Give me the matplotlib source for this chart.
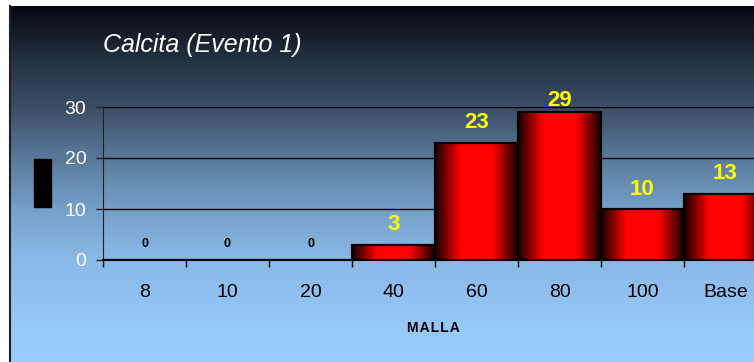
import matplotlib.pyplot as plt
import numpy as np
from matplotlib.colors import LinearSegmentedColormap
from matplotlib.patches import Rectangle
from matplotlib.lines import Line2D

plt.rcParams['font.family'] = ['Liberation Sans', 'DejaVu Sans']

mallas = ['8', '10', '20', '40', '60', '80', '100', 'Base']
porcentaje = [0, 0, 0, 3, 23, 29, 10, 13]

W, H = 754, 362
fig = plt.figure(figsize=(W / 100, H / 100), dpi=100, facecolor='white')

# fondo degradado: oscuro arriba, celeste abajo
bg_stops = [(0.0, '#99ccff'), (0.09, '#96c8f8'), (0.29, '#8ab8e6'),
            (0.43, '#75a0c8'), (0.57, '#5a7a9c'), (0.71, '#3d5068'),
            (0.88, '#1e2a38'), (1.0, '#05070d')]
bg_cmap = LinearSegmentedColormap.from_list('fondo', bg_stops)
bg = fig.add_axes([9.5 / W, 0, 1 - 9.5 / W, (H - 6) / H], zorder=-2)
bg.imshow(np.linspace(1, 0, 400).reshape(-1, 1), cmap=bg_cmap, aspect='auto',
          extent=[0, 1, 0, 1], vmin=0, vmax=1)
bg.set_axis_off()
fig.add_artist(Line2D([9.5 / W, 9.5 / W], [0, (H - 6) / H], color='#202020', lw=1.5))

# area de trazado (se sale por la derecha)
x0, x1 = 103, 103 + 8 * 83
y0, y1 = 260, 107
ax = fig.add_axes([x0 / W, (H - y0) / H, (x1 - x0) / W, (y0 - y1) / H])
ax.patch.set_visible(False)

for v in (10, 20, 30):
    ax.axhline(v, color='black', lw=1, zorder=1)

bar_cmap = LinearSegmentedColormap.from_list(
    'barra', [(0, '#150000'), (0.3, '#ff0000'), (0.7, '#ff0000'), (1, '#150000')])
grad = np.linspace(0, 1, 200).reshape(1, -1)
x = np.arange(len(mallas))
bars = ax.bar(x, porcentaje, width=1.0, facecolor='none', edgecolor='black',
              lw=1.6, zorder=3)
for b, v in zip(bars, porcentaje):
    if v <= 0:
        continue
    im = ax.imshow(grad, cmap=bar_cmap, aspect='auto', zorder=2,
                   extent=[b.get_x(), b.get_x() + b.get_width(), 0, v])
    im.set_clip_path(b)

ax.set_xlim(-0.5, len(mallas) - 0.5)
ax.set_ylim(0, 30)

for xi, v in zip(x, porcentaje):
    if v == 0:
        ax.text(xi, 3.1, '0', ha='center', va='center', fontsize=9,
                fontweight='bold', color='black')
    else:
        ax.text(xi, min(v + 3.9, 31.2), f'{v}', ha='center', va='center',
                fontsize=16, fontweight='bold', color='#ffff00', clip_on=False)

ax.spines['top'].set_visible(False)
ax.spines['right'].set_visible(False)
ax.spines['left'].set_color('#202020')
ax.spines['bottom'].set_color('black')
ax.spines['bottom'].set_linewidth(1.5)

ax.set_yticks([0, 10, 20, 30])
ax.tick_params(axis='y', length=5, width=1, color='#202020', pad=7,
               labelsize=14, labelcolor='white')
ax.set_xticks(x)
ax.set_xticklabels(mallas)
ax.set_xticks(np.arange(len(mallas)) - 0.5, minor=True)
ax.tick_params(axis='x', which='major', length=0, pad=17, labelsize=14,
               labelcolor='black')
ax.tick_params(axis='x', which='minor', length=5, width=1, color='black')

fig.text(433 / W, (H - 328) / H, 'M\u200aA\u200aL\u200aL\u200aA', ha='center',
         va='center', fontsize=10, fontweight='bold', color='black')
fig.text(103 / W, (H - 45) / H, 'Calcita (Evento 1)', ha='left', va='center',
         fontsize=18, style='italic', color='white')

# rotulo del eje Y (bloque negro)
fig.add_artist(Rectangle((34 / W, (H - 207) / H), 17 / W, 48 / H,
                         transform=fig.transFigure, color='black'))

fig.savefig('out.png', dpi=100, facecolor='white')
